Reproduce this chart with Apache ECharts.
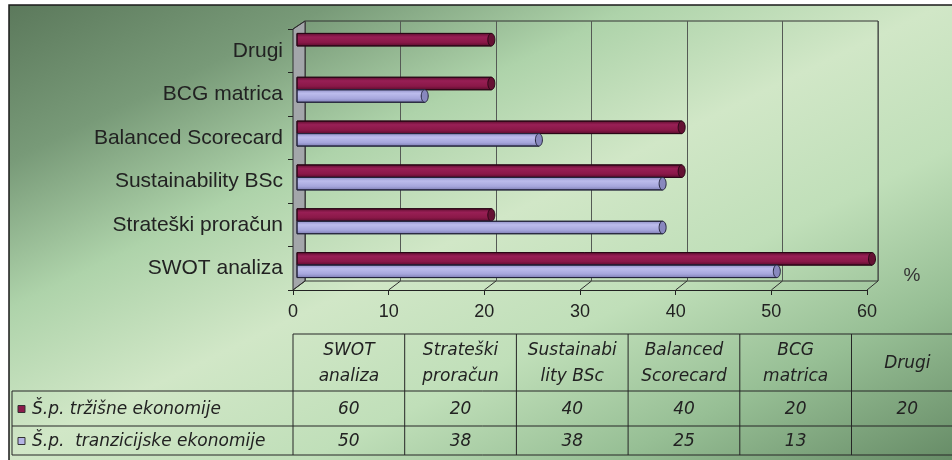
<!DOCTYPE html>
<html>
<head>
<meta charset="utf-8">
<script src="https://cdn.jsdelivr.net/npm/echarts@6/dist/echarts.min.js"></script>
<style>
  html, body { margin: 0; padding: 0; background: #ffffff; }
  #chart { width: 952px; height: 460px; }
</style>
</head>
<body>
<div id="chart"></div>
<script>
// ---- data ----
const categories = ['SWOT analiza', 'Strateški proračun', 'Sustainability BSc', 'Balanced Scorecard', 'BCG matrica', 'Drugi'];
const tableHeaders = ['SWOT\nanaliza', 'Strateški\nproračun', 'Sustainabi\nlity BSc', 'Balanced\nScorecard', 'BCG\nmatrica', 'Drugi'];
const seriesNames = ['Š.p. tržišne ekonomije', 'Š.p.  tranzicijske ekonomije'];
const trzisne = [60, 20, 40, 40, 20, 20];
const tranzicijske = [50, 38, 38, 25, 13, null];
const xTicks = [0, 10, 20, 30, 40, 50, 60];
const unitLabel = '%';

// ---- layout ----
const FRONT = { l: 293, t: 29, r: 867, b: 290 };   // front face of the 3D box
const BACK = { l: 305, t: 21, r: 878, b: 281 };    // back wall
const BARS = { l: 301, t: 24, w: 571, h: 263 };    // plane the cylinders sit in
const TABLE = { x0: 12, colX0: 293, colW: 111.7, top: 334, headB: 391, r1B: 426, r2B: 455 };
const INK = '#222222';
const AXIS_FONT = '"Liberation Sans", Arial, sans-serif';
const TABLE_FONT = '"DejaVu Sans", sans-serif';

const SERIES_STYLE = [
  { stops: ['#5a0d2d', '#981f55', '#8a1848', '#560c2b'], cap: '#651133', stroke: '#2a0716', swatch: '#8c1b4b' },
  { stops: ['#8c8cc4', '#bcbcec', '#a6a6dc', '#7a7ab0'], cap: '#8888be', stroke: '#25253c', swatch: '#b4b4e4' }
];

const xMin = xTicks[0], xMax = xTicks[xTicks.length - 1], xStep = xTicks[1] - xTicks[0];

function cylinder(seriesIdx) {
  const st = SERIES_STYLE[seriesIdx];
  return function (params, api) {
    const v = api.value(0);
    const cat = api.value(1);
    const p0 = api.coord([0, cat]);
    const p1 = api.coord([v, cat]);
    const band = api.size([0, 1])[1];
    const h = band * 0.285;
    const y0 = seriesIdx === 0 ? p0[1] - h : p0[1];
    const x0 = p0[0] - 4;
    const xe = p1[0];
    return {
      type: 'group',
      children: [
        {
          type: 'rect',
          shape: { x: x0, y: y0, width: xe - x0, height: h },
          style: {
            fill: { type: 'linear', x: 0, y: 0, x2: 0, y2: 1, colorStops: [
              { offset: 0, color: st.stops[0] }, { offset: 0.3, color: st.stops[1] },
              { offset: 0.7, color: st.stops[2] }, { offset: 1, color: st.stops[3] }] },
            stroke: st.stroke, lineWidth: 1
          }
        },
        {
          type: 'ellipse',
          shape: { cx: xe, cy: y0 + h / 2, rx: 3.5, ry: h / 2 },
          style: { fill: st.cap, stroke: st.stroke, lineWidth: 1 }
        }
      ]
    };
  };
}

const seriesData = [trzisne, tranzicijske].map(arr =>
  arr.map((v, i) => (v == null ? null : [v, i])).filter(d => d !== null));

// ---- static decoration: background, side wall, table ----
const graphics = [];
// background panel with diagonal gradient
graphics.push({
  type: 'rect', id: 'bg', z: -10, silent: true,
  shape: { x: 9, y: 5, width: 960, height: 470 },
  style: {
    fill: new echarts.graphic.LinearGradient(296, -143, 656, 603, [
      { offset: 0, color: '#5a775a' },
      { offset: 0.18, color: '#789a78' },
      { offset: 0.34, color: '#aed3aa' },
      { offset: 0.5, color: '#d1e7c7' },
      { offset: 0.66, color: '#c0dfb9' },
      { offset: 0.82, color: '#97bf95' },
      { offset: 1, color: '#678c67' }
    ], true),
    stroke: '#1a1a1a', lineWidth: 1.5
  }
});
// left side wall
graphics.push({
  type: 'polygon', id: 'wall', z: 1, silent: true,
  shape: { points: [[FRONT.l, FRONT.t], [BACK.l, BACK.t], [BACK.l, BACK.b], [FRONT.l, FRONT.b]] },
  style: { fill: '#a3a6aa', stroke: '#2e2e2e', lineWidth: 1 }
});
// unit label
graphics.push({
  type: 'text', id: 'unit', z: 5, silent: true,
  style: { text: unitLabel, x: 912, y: 276, align: 'center', verticalAlign: 'middle',
           font: '19px ' + AXIS_FONT, fill: '#333333' }
});

// data table
const tLine = (id, x1, y1, x2, y2) => ({
  type: 'line', id, z: 5, silent: true,
  shape: { x1, y1, x2, y2 }, style: { stroke: '#262626', lineWidth: 1 }
});
const colRight = TABLE.colX0 + categories.length * TABLE.colW;
graphics.push(tLine('tb-top', TABLE.colX0, TABLE.top, colRight, TABLE.top));
graphics.push(tLine('tb-h1', TABLE.x0, TABLE.headB, colRight, TABLE.headB));
graphics.push(tLine('tb-h2', TABLE.x0, TABLE.r1B, colRight, TABLE.r1B));
graphics.push(tLine('tb-h3', TABLE.x0, TABLE.r2B, colRight, TABLE.r2B));
graphics.push(tLine('tb-vl', TABLE.x0, TABLE.headB, TABLE.x0, TABLE.r2B));
for (let i = 0; i <= categories.length; i++) {
  const x = TABLE.colX0 + i * TABLE.colW;
  graphics.push(tLine('tb-v' + i, x, TABLE.top, x, TABLE.r2B));
}
const cellFont = 'italic 17px ' + TABLE_FONT;
tableHeaders.forEach((txt, i) => {
  graphics.push({
    type: 'text', id: 'th' + i, z: 6, silent: true,
    style: { text: txt, x: TABLE.colX0 + (i + 0.5) * TABLE.colW, y: (TABLE.top + TABLE.headB) / 2 + 1,
             align: 'center', verticalAlign: 'middle', font: cellFont, lineHeight: 26, fill: INK }
  });
});
const rowCenters = [(TABLE.headB + TABLE.r1B) / 2 + 1, (TABLE.r1B + TABLE.r2B) / 2 + 1];
[trzisne, tranzicijske].forEach((arr, r) => {
  graphics.push({
    type: 'rect', id: 'sw' + r, z: 6, silent: true,
    shape: { x: 18, y: rowCenters[r] - 4, width: 7, height: 7 },
    style: { fill: SERIES_STYLE[r].swatch, stroke: '#333', lineWidth: 1 }
  });
  graphics.push({
    type: 'text', id: 'rl' + r, z: 6, silent: true,
    style: { text: seriesNames[r], x: 32, y: rowCenters[r], align: 'left', verticalAlign: 'middle',
             font: cellFont, fill: INK }
  });
  arr.forEach((v, i) => {
    if (v == null) return;
    graphics.push({
      type: 'text', id: 'td' + r + '_' + i, z: 6, silent: true,
      style: { text: String(v), x: TABLE.colX0 + (i + 0.5) * TABLE.colW, y: rowCenters[r],
               align: 'center', verticalAlign: 'middle', font: cellFont, fill: INK }
    });
  });
});

const chart = echarts.init(document.getElementById('chart'), null, { renderer: 'canvas' });

const valueAxisBase = { type: 'value', min: xMin, max: xMax, interval: xStep };

chart.setOption({
  backgroundColor: '#ffffff',
  animation: false,
  grid: [
    { left: BACK.l, top: BACK.t, width: BACK.r - BACK.l, height: BACK.b - BACK.t,
      show: true, borderColor: '#333333', borderWidth: 1, backgroundColor: 'transparent' },
    { left: FRONT.l, top: FRONT.t, width: FRONT.r - FRONT.l, height: FRONT.b - FRONT.t },
    { left: BARS.l, top: BARS.t, width: BARS.w, height: BARS.h }
  ],
  xAxis: [
    Object.assign({}, valueAxisBase, { gridIndex: 0, axisLabel: { show: false }, axisTick: { show: false },
      axisLine: { show: false }, splitLine: { show: true, lineStyle: { color: '#555a55', width: 1 } } }),
    Object.assign({}, valueAxisBase, { gridIndex: 1,
      axisLine: { show: true, onZero: false, lineStyle: { color: '#222', width: 1 } },
      axisTick: { show: true, length: 5, lineStyle: { color: '#222' } },
      axisLabel: { fontSize: 18, fontFamily: AXIS_FONT, color: INK, margin: 13 },
      splitLine: { show: false } }),
    Object.assign({}, valueAxisBase, { gridIndex: 2, show: false })
  ],
  yAxis: [
    { type: 'category', gridIndex: 0, data: categories, show: false },
    { type: 'category', gridIndex: 1, data: categories,
      axisLine: { show: true, lineStyle: { color: '#222', width: 1 } },
      axisTick: { show: true, length: 5, lineStyle: { color: '#222' } },
      axisLabel: { fontSize: 21, fontFamily: AXIS_FONT, color: INK, margin: 10, padding: [3, 0, 0, 0] } },
    { type: 'category', gridIndex: 2, data: categories, show: false }
  ],
  series: seriesData.map((d, s) => ({
    type: 'custom', name: seriesNames[s], xAxisIndex: 2, yAxisIndex: 2, z: 3,
    encode: { x: 0, y: 1 }, data: d, renderItem: cylinder(s), silent: true
  })),
  graphic: graphics
});

// floor edges joining each front tick to its back gridline
const floorLines = xTicks.map((t, i) => {
  const xf = chart.convertToPixel({ xAxisIndex: 1 }, t);
  const xb = chart.convertToPixel({ xAxisIndex: 0 }, t);
  return { type: 'line', id: 'floor' + i, z: 1, silent: true,
           shape: { x1: xf, y1: FRONT.b, x2: xb, y2: BACK.b },
           style: { stroke: '#2e2e2e', lineWidth: 1 } };
});
floorLines.push({ type: 'line', id: 'wallTopEdge', z: 1, silent: true,
  shape: { x1: FRONT.l, y1: FRONT.t, x2: BACK.l, y2: BACK.t }, style: { stroke: '#2e2e2e', lineWidth: 1 } });
chart.setOption({ graphic: floorLines });
</script>
</body>
</html>
